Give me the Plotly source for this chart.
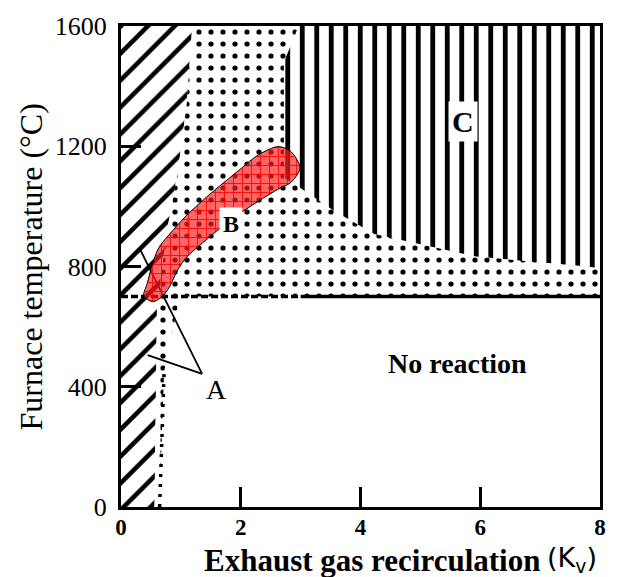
import plotly.graph_objects as go

# ---------------- data ----------------
x_ticks = [0, 2, 4, 6, 8]
y_ticks = [0, 400, 800, 1200, 1600]
x_max, y_max = 8, 1600
no_reaction_temp = 700          # lower limit of reaction (dashed line)
dash_solid_split = 3.0          # dashed part of the 700 degC line ends here

# Region A (hatched) : right-hand boundary, bottom -> top
a_edge_x = [0.56, 0.60, 0.75, 0.95, 1.10, 1.19]
a_edge_y = [0, 650, 900, 1115, 1344, 1600]

# Region B (dotted) tail below the reaction limit
b_tail_x = [0.98, 0.72, 0.64]
b_tail_y = [700, 450, 0]

# Dotted vertical boundary line
dotline_x = [0.645, 0.72]
dotline_y = [0, 450]

# Region C (vertical lines)
c_x = [2.96, 8, 8, 7.8, 5.93, 4.99, 4.23, 3.57, 2.99, 2.72, 2.72, 2.90]
c_y = [1600, 1600, 793, 800, 833, 875, 908, 984, 1062, 1095, 1480, 1565]

# Red operating band (upper edge then lower edge)
band_up_x = [0.38, 0.44, 0.52, 0.63, 0.80, 1.08, 1.47, 1.97, 2.30, 2.63, 2.84, 2.99]
band_up_y = [702, 745, 805, 862, 905, 967, 1038, 1120, 1172, 1199, 1182, 1128]
band_lo_x = [2.84, 2.63, 2.30, 1.85, 1.64, 1.36, 1.09, 0.94, 0.81, 0.69, 0.53]
band_lo_y = [1080, 1058, 1018, 958, 925, 878, 830, 786, 732, 700, 683]

# Pointer lines from label "A"
ptr1_x = [0.314, 1.355]
ptr1_y = [859, 443]
ptr2_x = [0.446, 1.355]
ptr2_y = [505, 443]

labels = [
    dict(text="A", x=1.587, y=390, size=28, bold=False, bg=None),
    dict(text="B", x=1.835, y=941, size=24, bold=True, bg="white"),
    dict(text="C", x=5.72, y=1282, size=30, bold=True, bg="white"),
    dict(text="No reaction", x=5.62, y=479, size=28, bold=True, bg=None),
]

SERIF = "Liberation Serif"

fig = go.Figure()


def region(xs, ys, shape, size, solidity):
    fig.add_trace(go.Scatter(
        x=xs, y=ys, fill="toself", mode="lines", line=dict(width=0, color="black"),
        fillcolor="rgba(255,255,255,1)",
        fillpattern=dict(shape=shape, size=size, solidity=solidity, fgcolor="#000000",
                         bgcolor="#ffffff", fgopacity=1, fillmode="replace"),
        hoverinfo="skip", showlegend=False))


# Region A
region([0] + a_edge_x + [0], [0] + a_edge_y + [y_max], "/", 19, 0.24)
# Region B
region(a_edge_x + [x_max, x_max] + b_tail_x,
       a_edge_y + [y_max, no_reaction_temp] + b_tail_y, ".", 12, 0.15)
# Region C
region(c_x, c_y, "|", 14.5, 0.33)

# 700 degC reaction limit
fig.add_trace(go.Scatter(
    x=[0, dash_solid_split], y=[no_reaction_temp, no_reaction_temp], mode="lines",
    line=dict(color="black", width=3.5, dash="7px,3px"), hoverinfo="skip", showlegend=False))
fig.add_trace(go.Scatter(
    x=[dash_solid_split, x_max], y=[no_reaction_temp, no_reaction_temp], mode="lines",
    line=dict(color="black", width=3.5), hoverinfo="skip", showlegend=False))

# dotted vertical line
fig.add_trace(go.Scatter(
    x=dotline_x, y=dotline_y, mode="lines",
    line=dict(color="black", width=3.5, dash="3px,7px"), hoverinfo="skip", showlegend=False))

# pointer lines
for px, py in [(ptr1_x, ptr1_y), (ptr2_x, ptr2_y)]:
    fig.add_trace(go.Scatter(x=px, y=py, mode="lines", line=dict(color="black", width=1.8),
                             hoverinfo="skip", showlegend=False))

# red band
fig.add_trace(go.Scatter(
    x=band_up_x + band_lo_x + [band_up_x[0]], y=band_up_y + band_lo_y + [band_up_y[0]],
    fill="toself", mode="lines", line=dict(color="black", width=1, shape="spline", smoothing=0.8),
    fillcolor="rgba(255,0,0,1)",
    fillpattern=dict(shape="+", size=9, solidity=0.18, fgcolor="#ff0000", fgopacity=1,
                     bgcolor="rgba(250,30,30,0.68)", fillmode="replace"),
    hoverinfo="skip", showlegend=False))

for lab in labels:
    t = f"<b>{lab['text']}</b>" if lab["bold"] else lab["text"]
    fig.add_annotation(x=lab["x"], y=lab["y"], text=t, showarrow=False,
                       font=dict(family=SERIF, size=lab["size"], color="black"),
                       bgcolor=lab["bg"] if lab["bg"] else "rgba(0,0,0,0)", borderpad=3)

# axis titles
fig.add_annotation(xref="paper", yref="paper", x=0.169, y=-0.111, xanchor="left", yanchor="middle",
                   text="<b>Exhaust gas recirculation</b>", showarrow=False,
                   font=dict(family=SERIF, size=31, color="black"))
fig.add_annotation(xref="paper", yref="paper", x=0.885, y=-0.11, xanchor="left", yanchor="middle",
                   text="(K<sub>v</sub>)", showarrow=False,
                   font=dict(family="DejaVu Sans", size=27, color="black"))
fig.add_annotation(xref="paper", yref="paper", x=-0.188, y=0.5, xanchor="center", yanchor="middle",
                   text="Furnace temperature (°C)", textangle=-90, showarrow=False,
                   font=dict(family=SERIF, size=32, color="black"))

axis_common = dict(showline=True, linewidth=3, linecolor="black", mirror=True,
                   showgrid=False, zeroline=False, ticks="inside", ticklen=20,
                   tickwidth=2.5, tickcolor="black")
fig.update_xaxes(range=[0, x_max], tickvals=x_ticks, ticktext=[str(v) for v in x_ticks],
                 tickfont=dict(family=SERIF, size=23, color="black", weight="bold"),
                 ticklabelstandoff=-3, **axis_common)
fig.update_yaxes(range=[0, y_max], tickvals=y_ticks, ticktext=[str(v) for v in y_ticks],
                 tickfont=dict(family=SERIF, size=26, color="black"),
                 ticklabelstandoff=6, **axis_common)

fig.update_layout(width=618, height=577, margin=dict(l=121, r=13, t=19, b=70),
                  plot_bgcolor="white", paper_bgcolor="white", showlegend=False)

fig.write_html("out.html")
